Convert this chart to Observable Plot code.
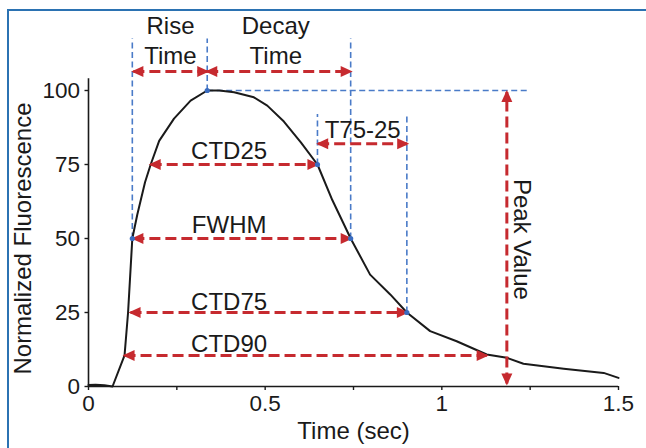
<!DOCTYPE html>
<html><head><meta charset="utf-8">
<script src="https://cdn.jsdelivr.net/npm/d3@7"></script>
<script src="https://cdn.jsdelivr.net/npm/@observablehq/plot@0.6"></script>
<style>
html,body{margin:0;padding:0;background:#fff;}
#wrap{position:relative;width:646px;height:448px;overflow:hidden;background:#fff;}
#frame{position:absolute;left:7px;top:9px;width:700px;height:500px;border-left:2.5px solid #2b72b2;border-top:2.5px solid #2b72b2;pointer-events:none;}
</style></head><body><div id="wrap"><div id="frame"></div></div>
<script>
// Fluorescence transient (time in sec, normalized fluorescence)
const curveT = [0, 0.02, 0.045, 0.068, 0.102, 0.112, 0.124, 0.138, 0.16, 0.176, 0.2, 0.242, 0.289, 0.336, 0.37, 0.412, 0.468, 0.506, 0.553, 0.601, 0.648, 0.69, 0.742, 0.797, 0.854, 0.901, 0.967, 1.042, 1.127, 1.184, 1.231, 1.345, 1.458, 1.5];
const curveF = [0.5, 0.6, 0.4, 0, 10.5, 25, 50, 58, 69, 75, 83, 90.5, 96.6, 100, 100, 99.4, 97.7, 94.9, 89.5, 82.5, 75, 63, 50, 37.8, 31.1, 25, 18.7, 15.3, 10.8, 9.7, 7.7, 6.0, 4.6, 2.9];

// Key points on the curve (blue dots)
const keyT = [0.124, 0.336, 0.648, 0.742, 0.901];
const keyF = [50, 100, 75, 50, 25];

// Blue dashed guide lines (vertical)
const guideX = [0.124, 0.336, 0.742, 0.648, 0.901];
const guideY1 = [50, 100, 50, 75, 25];
const guideY2 = [117.6, 117.6, 117.6, 92.1, 92.1];
// Blue dashed guide line (horizontal, peak level)
const peakGuideX1 = [0.336];
const peakGuideX2 = [1.245];
const peakGuideY = [100];

// Horizontal red double arrows (measurements)
const hArrowName = ["Rise Time", "Decay Time", "T75-25", "CTD25", "FWHM", "CTD75", "CTD90"];
const hArrowX1 = [0.127, 0.336, 0.650, 0.176, 0.127, 0.119, 0.102];
const hArrowX2 = [0.336, 0.742, 0.902, 0.648, 0.742, 0.901, 1.127];
const hArrowY = [106.4, 106.4, 82, 75, 50, 25, 10.5];

// Vertical red double arrow (peak value)
const vArrowX = [1.184];
const vArrowY1 = [1];
const vArrowY2 = [99.5];

// Annotation labels
const labelText = ["Rise\nTime", "Decay\nTime", "T75-25", "CTD25", "FWHM", "CTD75", "CTD90"];
const labelX = [0.232, 0.53, 0.776, 0.398, 0.398, 0.398, 0.398];
const labelY = [117.2, 117.2, 87.3, 80.1, 55, 29, 14.9];
const peakLabel = ["Peak Value"];
const peakLabelX = [1.227];
const peakLabelY = [49.7];

// Axes
const xTicks = [0, 0.25, 0.5, 0.75, 1, 1.25, 1.5];
const xTickLabels = [0, 0.5, 1, 1.5];
const yTicks = [0, 25, 50, 75, 100];
const xTitle = "Time (sec)";
const yTitle = "Normalized Fluorescence";

const RED = "#c62a2f";
const BLUE = "#4a7bc8";
const DOT = "#3a6cc0";
const INK = "#1a1a1a";
const FONT = "'Liberation Sans', Arial, sans-serif";

function solidHead(color) {
  const m = d3.create("svg:marker")
    .attr("viewBox", "0 -5.5 12 11")
    .attr("refX", 10).attr("refY", 0)
    .attr("markerUnits", "userSpaceOnUse")
    .attr("markerWidth", 12).attr("markerHeight", 11)
    .attr("orient", "auto-start-reverse")
    .attr("overflow", "visible")
    .attr("stroke-dasharray", "none");
  m.append("path").attr("d", "M0,-5.5L12,0L0,5.5Z")
    .attr("fill", color).attr("stroke", "none").attr("stroke-dasharray", "none");
  return m.node();
}

const curve = curveT.map((t, i) => ({t, f: curveF[i]}));
const keys = keyT.map((t, i) => ({t, f: keyF[i]}));
const guides = guideX.map((x, i) => ({x, y1: guideY1[i], y2: guideY2[i]}));
const peakGuide = peakGuideY.map((y, i) => ({y, x1: peakGuideX1[i], x2: peakGuideX2[i]}));
const hArrows = hArrowName.map((n, i) => ({n, x1: hArrowX1[i], x2: hArrowX2[i], y: hArrowY[i]}));
const vArrows = vArrowX.map((x, i) => ({x, y1: vArrowY1[i], y2: vArrowY2[i]}));
const labels = labelText.map((s, i) => ({s, x: labelX[i], y: labelY[i]}));
const peakLabels = peakLabel.map((s, i) => ({s, x: peakLabelX[i], y: peakLabelY[i]}));

const chart = Plot.plot({
  width: 646,
  height: 448,
  marginLeft: 88,
  marginRight: 28,
  marginTop: 90,
  marginBottom: 62,
  style: {fontFamily: FONT, color: INK, background: "transparent"},
  x: {domain: [0, 1.5]},
  y: {domain: [0, 100]},
  marks: [
    // blue dashed guides
    Plot.link(guides, {x1: "x", x2: "x", y1: "y1", y2: "y2", stroke: BLUE, strokeWidth: 1.6, strokeDasharray: "6,3.5"}),
    Plot.link(peakGuide, {x1: "x1", x2: "x2", y1: "y", y2: "y", stroke: BLUE, strokeWidth: 1.6, strokeDasharray: "6,3.5"}),
    // axes lines
    Plot.ruleX([0], {y1: 0, y2: 104, stroke: INK, strokeWidth: 1.6}),
    Plot.ruleY([0], {x1: 0, x2: 1.5, stroke: INK, strokeWidth: 1.6}),
    Plot.axisX({ticks: xTicks, tickFormat: d => xTickLabels.includes(d) ? String(d) : "", tickSize: 4, tickPadding: 5, fontSize: 22.5, label: null, strokeWidth: 1.4}),
    Plot.axisY({ticks: yTicks, tickSize: 3.5, tickPadding: 5, fontSize: 22.5, label: null, strokeWidth: 1.4}),
    Plot.text([xTitle], {text: d => d, frameAnchor: "bottom", textAnchor: "middle", dy: 52, fontSize: 24, fill: INK}),
    Plot.text([yTitle], {text: d => d, frameAnchor: "left", textAnchor: "middle", dx: -65, rotate: -90, fontSize: 24, fill: INK}),
    // curve
    Plot.line(curve, {x: "t", y: "f", stroke: INK, strokeWidth: 2, strokeLinejoin: "round"}),
    // red arrows
    Plot.link(hArrows, {x1: "x1", x2: "x2", y1: "y", y2: "y", stroke: RED, strokeWidth: 3, strokeDasharray: "11,5", markerStart: solidHead, markerEnd: solidHead}),
    Plot.link(vArrows, {x1: "x", x2: "x", y1: "y1", y2: "y2", stroke: RED, strokeWidth: 3, strokeDasharray: "11,5", markerStart: solidHead, markerEnd: solidHead}),
    // key points
    Plot.dot(keys, {x: "t", y: "f", r: 2.6, fill: DOT, stroke: "none"}),
    // labels
    Plot.text(labels, {x: "x", y: "y", text: "s", fontSize: 24, lineHeight: 1.25, lineAnchor: "middle", fill: INK}),
    Plot.text(peakLabels, {x: "x", y: "y", text: "s", fontSize: 24, rotate: 90, lineAnchor: "middle", fill: INK})
  ]
});
document.getElementById("wrap").insertBefore(chart, document.getElementById("frame"));
</script>
</body></html>
